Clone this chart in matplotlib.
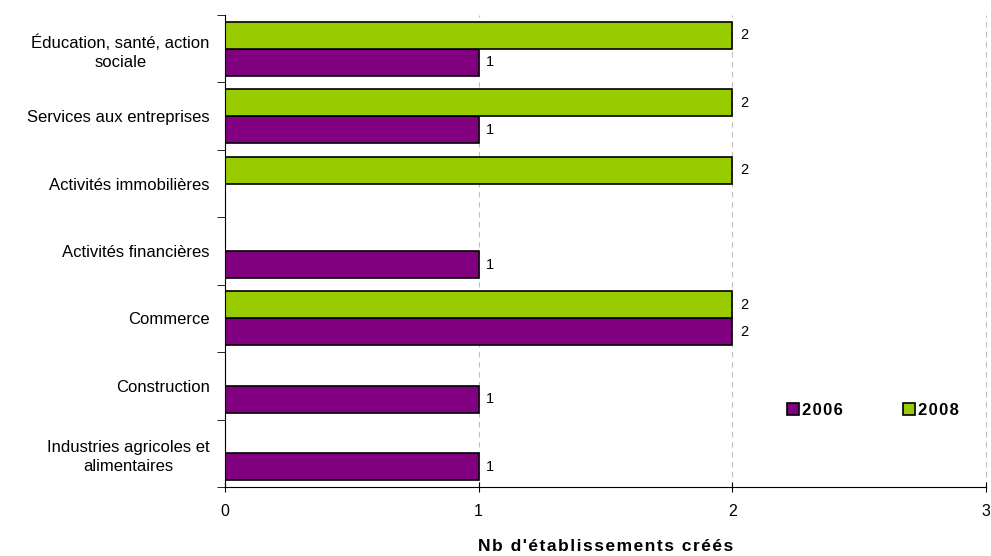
import numpy as np
import matplotlib.pyplot as plt

plt.rcParams['font.family'] = ['Liberation Sans', 'DejaVu Sans']

# categories, top to bottom
categories = ["Éducation, santé, action\nsociale", "Services aux entreprises",
              "Activités immobilières", "Activités financières", "Commerce",
              "Construction", "Industries agricoles et\nalimentaires"]
values_2006 = [1, 1, 0, 1, 2, 1, 1]
values_2008 = [2, 2, 2, 0, 2, 0, 0]
years = ["2006", "2008"]
colors = ["#800080", "#99CC00"]
xlabel = "Nb d'établissements créés"


def spaced(s):
    # Excel-like letter spacing
    return "\u200a".join(s)


fig = plt.figure(figsize=(9.91, 5.56), dpi=100)
ax = fig.add_axes([0.227, 0.124, 0.768, 0.849])

y = np.arange(len(categories))
h = 0.4
b06 = ax.barh(y + h / 2, values_2006, height=h, color=colors[0],
              edgecolor="black", linewidth=1.2, label=spaced(years[0]))
b08 = ax.barh(y - h / 2, values_2008, height=h, color=colors[1],
              edgecolor="black", linewidth=1.2, label=spaced(years[1]))

# value labels, skip zeros
for bars, vals in ((b06, values_2006), (b08, values_2008)):
    for bar, v in zip(bars, vals):
        if v:
            ax.text(v + 0.03, bar.get_y() + bar.get_height() / 2, str(v),
                    va="center", ha="left", fontsize=10.5)

ax.set_xlim(0, 3)
ax.set_ylim(len(categories) - 0.5, -0.5)
ax.set_xticks([0, 1, 2, 3])
ax.tick_params(axis="x", labelsize=11.5, direction="inout", length=7, pad=9)

ax.set_yticks(y)
ax.set_yticklabels(categories, fontsize=12, multialignment="center",
                   linespacing=1.35)
ax.tick_params(axis="y", length=0, pad=11)
ax.set_yticks(np.arange(len(categories) + 1) - 0.5, minor=True)
ax.tick_params(axis="y", which="minor", length=6, direction="out")

ax.xaxis.grid(True, linestyle=(0, (5, 4)), color="#c0c0c0", linewidth=0.8)
for gl in ax.get_xgridlines():
    gl.set_clip_on(False)
ax.set_axisbelow(True)
for s in ("top", "right"):
    ax.spines[s].set_visible(False)

ax.set_xlabel(spaced(xlabel), fontsize=12.5, fontweight="bold", labelpad=14)

ax.legend(loc="center", bbox_to_anchor=(0.851, 0.163), ncol=2, frameon=False,
          handlelength=0.75, handleheight=0.75, handletextpad=0.15,
          columnspacing=3.6, prop={"weight": "bold", "size": 12})

fig.savefig("out.png", dpi=100)
